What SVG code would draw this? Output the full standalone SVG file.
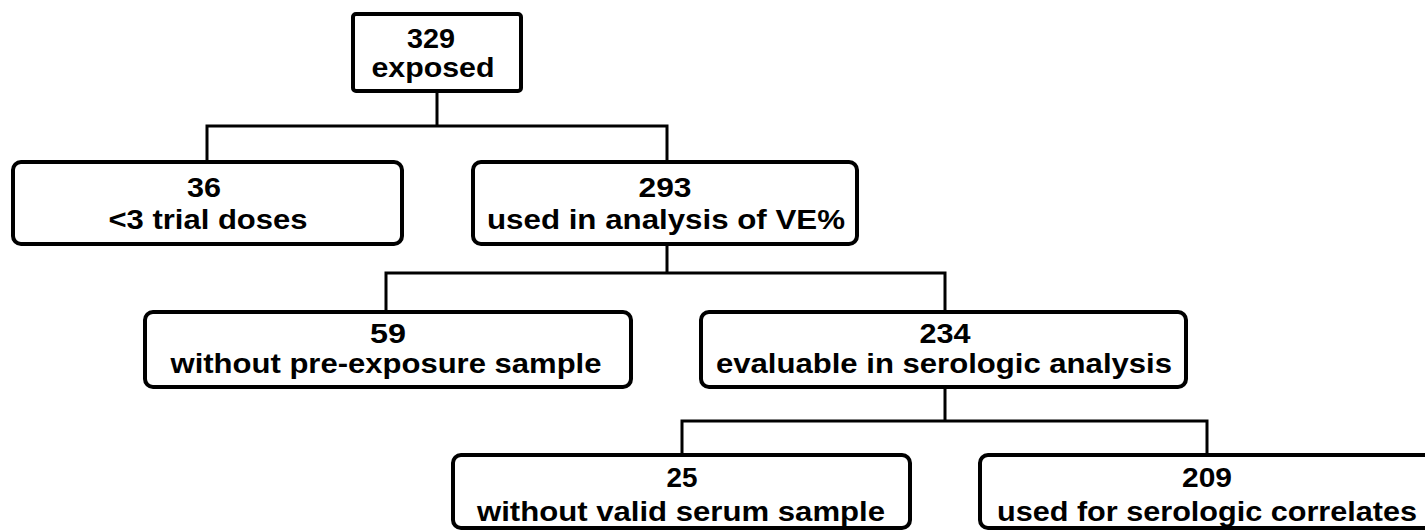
<svg xmlns="http://www.w3.org/2000/svg" width="1425" height="530" viewBox="0 0 1425 530">
<style>
.box{fill:#fff;stroke:#000;stroke-width:4}
.edge{fill:none;stroke:#000;stroke-width:3;stroke-linejoin:miter}
text{font-family:"Liberation Sans",Arial,sans-serif;font-weight:bold;font-size:28px;fill:#000;text-anchor:middle}
</style>
<rect width="1425" height="530" fill="#fff"/>
<g id="connectors">
<path class="edge" d="M437 91 V126 M207 162 V126 H667 V162"/>
<path class="edge" d="M667 244 V273 M386 312 V273 H945 V312"/>
<path class="edge" d="M945 387 V421 M682 455 V421 H1207 V455"/>
</g>
<g id="n329">
<rect class="box" x="353" y="14" width="168" height="77" rx="3"/>
<text x="431" y="48" textLength="48" lengthAdjust="spacingAndGlyphs">329</text>
<text x="433" y="77" textLength="123" lengthAdjust="spacingAndGlyphs">exposed</text>
</g>
<g id="n36">
<rect class="box" x="13" y="162" width="389" height="82" rx="8"/>
<text x="204" y="197" textLength="34" lengthAdjust="spacingAndGlyphs">36</text>
<text x="208" y="229" textLength="199" lengthAdjust="spacingAndGlyphs">&lt;3 trial doses</text>
</g>
<g id="n293">
<rect class="box" x="473" y="162" width="384" height="82" rx="8"/>
<text x="665" y="197" textLength="53" lengthAdjust="spacingAndGlyphs">293</text>
<text x="666" y="229" textLength="358" lengthAdjust="spacingAndGlyphs">used in analysis of VE%</text>
</g>
<g id="n59">
<rect class="box" x="145" y="312" width="486" height="75" rx="8"/>
<text x="388" y="343" textLength="36" lengthAdjust="spacingAndGlyphs">59</text>
<text x="386" y="373" textLength="431" lengthAdjust="spacingAndGlyphs">without pre-exposure sample</text>
</g>
<g id="n234">
<rect class="box" x="701" y="312" width="485" height="75" rx="8"/>
<text x="945" y="343" textLength="51" lengthAdjust="spacingAndGlyphs">234</text>
<text x="944" y="373" textLength="456" lengthAdjust="spacingAndGlyphs">evaluable in serologic analysis</text>
</g>
<g id="n25">
<rect class="box" x="453" y="455" width="457" height="73" rx="8"/>
<text x="682" y="487" textLength="31" lengthAdjust="spacingAndGlyphs">25</text>
<text x="681" y="521" textLength="408" lengthAdjust="spacingAndGlyphs">without valid serum sample</text>
</g>
<g id="n209">
<rect class="box" x="980" y="455" width="470" height="73" rx="8"/>
<text x="1207" y="487" textLength="50" lengthAdjust="spacingAndGlyphs">209</text>
<text x="1207" y="521" textLength="420" lengthAdjust="spacingAndGlyphs">used for serologic correlates</text>
</g>
</svg>
